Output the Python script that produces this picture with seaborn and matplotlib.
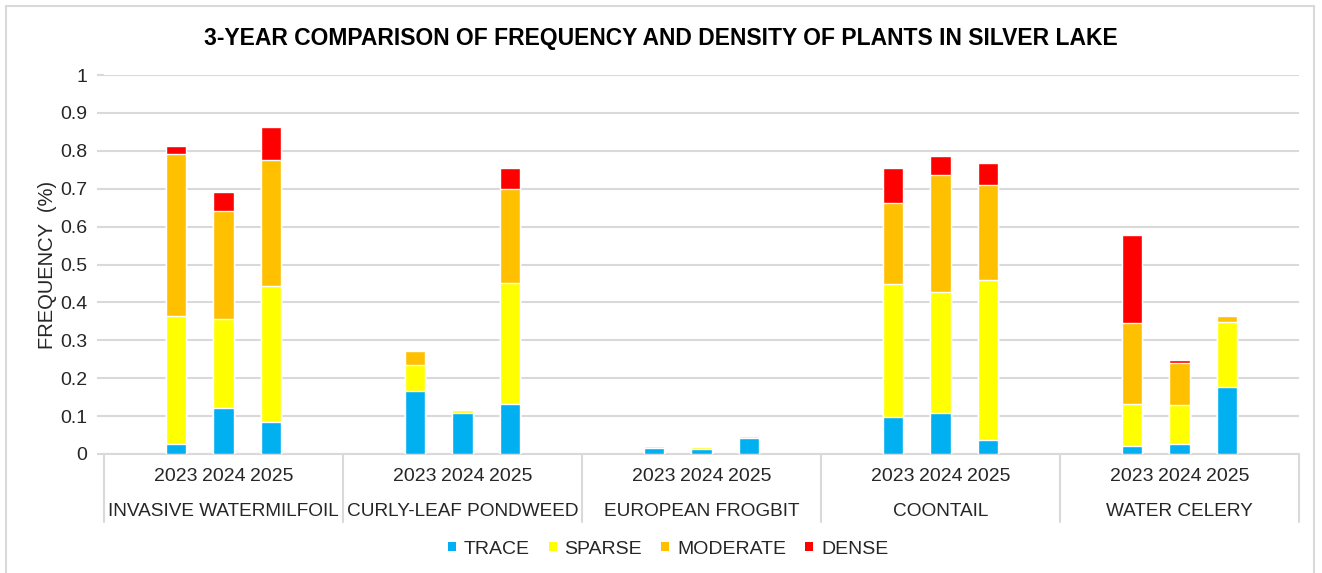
import pandas as pd
import matplotlib.pyplot as plt
import matplotlib.transforms as mtransforms
from matplotlib.patches import Rectangle, Patch
import seaborn as sns

species = ["INVASIVE WATERMILFOIL", "CURLY-LEAF PONDWEED", "EUROPEAN FROGBIT",
           "COONTAIL", "WATER CELERY"]
years = ["2023", "2024", "2025"]
levels = ["TRACE", "SPARSE", "MODERATE", "DENSE"]
colors = ["#00B0F0", "#FFFF00", "#FFC000", "#FF0000"]

# values per species, in year order 2023, 2024, 2025
trace = [0.027, 0.121, 0.085,  0.166, 0.109, 0.132,  0.015, 0.013, 0.041,
         0.097, 0.107, 0.037,  0.022, 0.027, 0.176]
sparse = [0.336, 0.235, 0.357,  0.069, 0.007, 0.320,  0.006, 0.005, 0.006,
          0.352, 0.321, 0.422,  0.109, 0.101, 0.171]
moderate = [0.428, 0.285, 0.334,  0.037, 0.000, 0.248,  0.000, 0.000, 0.000,
            0.213, 0.308, 0.251,  0.214, 0.111, 0.018]
dense = [0.021, 0.050, 0.086,  0.000, 0.000, 0.055,  0.000, 0.000, 0.000,
         0.092, 0.050, 0.057,  0.232, 0.008, 0.000]

sns.set_theme(style="white")
plt.rcParams["font.family"] = ["Liberation Sans", "DejaVu Sans"]

# five slots per species, the middle three hold the years
order = [f"{g}-{k}" for g in range(len(species)) for k in range(5)]
slot = [f"{g}-{k + 1}" for g in range(len(species)) for k in range(3)]
df = pd.DataFrame({"slot": slot, "TRACE": trace, "SPARSE": sparse,
                   "MODERATE": moderate, "DENSE": dense})
cum = df[levels].cumsum(axis=1)

fig = plt.figure(figsize=(13.22, 5.73), dpi=100)
ax = fig.add_axes([104 / 1322, 1 - 454 / 573, 1195 / 1322, 379 / 573])

for lev, col in reversed(list(zip(levels, colors))):
    sns.barplot(x=df["slot"], y=cum[lev], order=order, color=col,
                saturation=1, width=0.42, ax=ax, zorder=3)

ax.set_xlim(-0.5, len(order) - 0.5)
ax.set_ylim(0, 1)
ax.set_yticks([i / 10 for i in range(11)])
ax.set_yticklabels(["0"] + [f"0.{i}" for i in range(1, 10)] + ["1"], fontsize=14,
                   color="#262626")
ax.yaxis.grid(True, color="#d9d9d9", linewidth=1.5, zorder=0)
ax.set_xticks([])
ax.set_xlabel("")
ax.set_ylabel("FREQUENCY  (%)", fontsize=14.5, color="#262626")
ax.yaxis.set_label_coords(-0.039, 0.5)
ax.tick_params(axis="y", length=5, width=1.5, color="#d9d9d9", pad=7, left=True)
for s in ["top", "right", "left"]:
    ax.spines[s].set_visible(False)
ax.spines["bottom"].set_color("#d9d9d9")
ax.spines["bottom"].set_linewidth(1.5)

trans = mtransforms.blended_transform_factory(ax.transData, ax.transAxes)
for g, name in enumerate(species):
    for k, yr in enumerate(years):
        ax.text(g * 5 + k + 1, -0.06, yr, transform=trans, ha="center",
                va="center", fontsize=14, color="#262626")
    ax.text(g * 5 + 2, -0.152, name, transform=trans, ha="center",
            va="center", fontsize=13.7, color="#262626")
for g in range(len(species) + 1):
    ax.plot([g * 5 - 0.5] * 2, [0, -0.18], transform=trans, color="#d9d9d9",
            linewidth=1.5, clip_on=False)

fig.text(0.5, 1 - 38 / 573, "3-YEAR COMPARISON OF FREQUENCY AND DENSITY OF PLANTS IN SILVER LAKE",
         ha="center", va="center", fontsize=16.5, fontweight="bold", color="#000000")

handles = [Patch(facecolor=c, edgecolor="none") for c in colors]
fig.legend(handles, levels, loc="center", bbox_to_anchor=(668 / 1322, 1 - 549 / 573),
           ncol=4, frameon=False, fontsize=14, handlelength=0.4, handleheight=0.4,
           handletextpad=0.4, columnspacing=1.0, labelcolor="#262626")

fig.patches.append(Rectangle((6 / 1322, -0.01), 1308 / 1322, 1 - 6 / 573 + 0.01,
                             transform=fig.transFigure, fill=False,
                             edgecolor="#d9d9d9", linewidth=1.5))

fig.savefig("out.png", dpi=100)
